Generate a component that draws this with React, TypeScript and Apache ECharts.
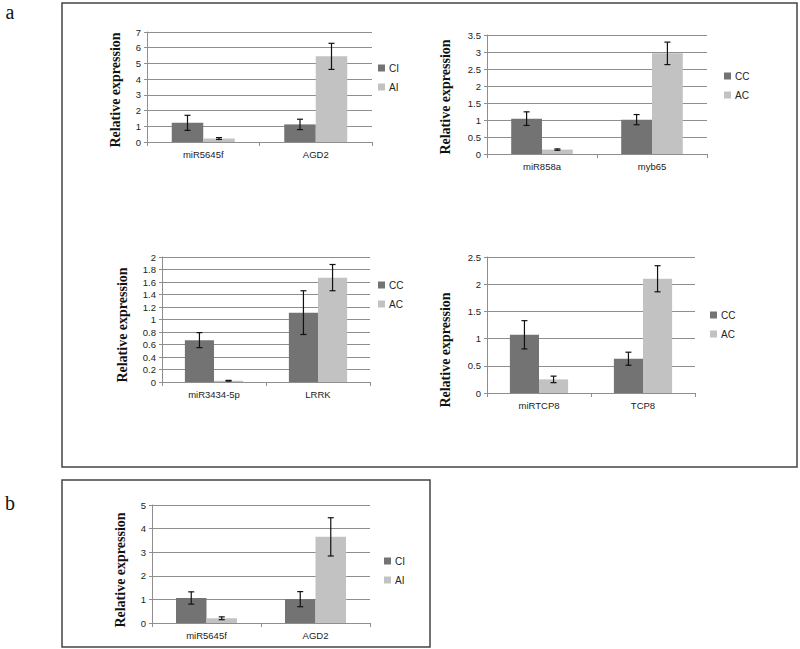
import React, { useEffect, useRef } from "react";
import * as echarts from "echarts";

// ---- data ----
const CATS_1 = ["miR5645f", "AGD2"];
const CI_1 = [1.22, 1.12];
const CI_1_ERR = [0.48, 0.33];
const AI_1 = [0.22, 5.45];
const AI_1_ERR = [0.06, 0.83];

const CATS_2 = ["miR858a", "myb65"];
const CC_2 = [1.04, 1.01];
const CC_2_ERR = [0.2, 0.15];
const AC_2 = [0.13, 2.96];
const AC_2_ERR = [0.02, 0.33];

const CATS_3 = ["miR3434-5p", "LRRK"];
const CC_3 = [0.67, 1.11];
const CC_3_ERR = [0.12, 0.35];
const AC_3 = [0.02, 1.67];
const AC_3_ERR = [0.006, 0.21];

const CATS_4 = ["miRTCP8", "TCP8"];
const CC_4 = [1.07, 0.63];
const CC_4_ERR = [0.26, 0.12];
const AC_4 = [0.25, 2.1];
const AC_4_ERR = [0.06, 0.24];

const CATS_5 = ["miR5645f", "AGD2"];
const CI_5 = [1.06, 1.01];
const CI_5_ERR = [0.26, 0.32];
const AI_5 = [0.2, 3.65];
const AI_5_ERR = [0.06, 0.81];

const Y_MAX = [7, 3.5, 2, 2.5, 5];
const Y_STEP = [1, 0.5, 0.2, 0.5, 1];
const NAMES = [
  ["CI", "AI"],
  ["CC", "AC"],
  ["CC", "AC"],
  ["CC", "AC"],
  ["CI", "AI"],
];
const Y_TITLE = "Relative expression";

// ---- layout (pixels) ----
const GRIDS = [
  { left: 147, top: 32, width: 225, height: 110 },
  { left: 487, top: 35, width: 220, height: 119 },
  { left: 162, top: 257, width: 208, height: 125 },
  { left: 487, top: 257, width: 208, height: 136 },
  { left: 152, top: 505, width: 218, height: 118 },
];
const TITLE_POS = [
  [115, 90],
  [445, 97],
  [122, 325],
  [445, 350],
  [120, 570],
];
const LEGEND_POS = [
  [378, 63],
  [724, 71],
  [378, 280],
  [710, 310],
  [384, 556],
];

const DARK = "#737373";
const LIGHT = "#c2c2c2";
const GRID_COLOR = "#8e8e8e";
const SANS = "Liberation Sans";
const SERIF = "Liberation Serif";

const PANELS = [
  { cats: CATS_1, a: CI_1, ae: CI_1_ERR, b: AI_1, be: AI_1_ERR },
  { cats: CATS_2, a: CC_2, ae: CC_2_ERR, b: AC_2, be: AC_2_ERR },
  { cats: CATS_3, a: CC_3, ae: CC_3_ERR, b: AC_3, be: AC_3_ERR },
  { cats: CATS_4, a: CC_4, ae: CC_4_ERR, b: AC_4, be: AC_4_ERR },
  { cats: CATS_5, a: CI_5, ae: CI_5_ERR, b: AI_5, be: AI_5_ERR },
];

function buildOption() {
  const grid: any[] = [];
  const xAxis: any[] = [];
  const yAxis: any[] = [];
  const series: any[] = [];
  const legend: any[] = [];
  const graphic: any[] = [];

  PANELS.forEach((p, k) => {
    grid.push({ ...GRIDS[k], containLabel: false });
    xAxis.push({
      type: "category",
      gridIndex: k,
      data: p.cats,
      axisLine: { show: true, lineStyle: { color: GRID_COLOR, width: 1 } },
      axisTick: { show: true, length: 4, lineStyle: { color: GRID_COLOR } },
      axisLabel: { fontFamily: SANS, fontSize: 9.5, color: "#222", margin: 7 },
    });
    yAxis.push({
      type: "value",
      gridIndex: k,
      min: 0,
      max: Y_MAX[k],
      interval: Y_STEP[k],
      axisLine: { show: true, lineStyle: { color: GRID_COLOR, width: 1 } },
      axisTick: { show: true, length: 3, lineStyle: { color: GRID_COLOR } },
      splitLine: { show: true, lineStyle: { color: GRID_COLOR, width: 1 } },
      axisLabel: {
        fontFamily: SANS,
        fontSize: 9.5,
        color: "#222",
        margin: 6,
        formatter: (v: number) => String(+v.toFixed(1)),
      },
    });
    const [n1, n2] = NAMES[k];
    series.push({
      type: "bar",
      name: n1,
      xAxisIndex: k,
      yAxisIndex: k,
      data: p.a,
      itemStyle: { color: DARK },
      barGap: "0%",
      barCategoryGap: "44%",
    });
    series.push({
      type: "bar",
      name: n2,
      xAxisIndex: k,
      yAxisIndex: k,
      data: p.b,
      itemStyle: { color: LIGHT },
      barGap: "0%",
      barCategoryGap: "44%",
    });
    const errData: number[][] = [];
    p.cats.forEach((_, i) => {
      errData.push([i, p.a[i] - p.ae[i], p.a[i] + p.ae[i], 0]);
      errData.push([i, p.b[i] - p.be[i], p.b[i] + p.be[i], 1]);
    });
    series.push({
      type: "custom",
      name: "err" + k,
      xAxisIndex: k,
      yAxisIndex: k,
      z: 10,
      data: errData,
      encode: { x: 0, y: [1, 2] },
      renderItem: (params: any, api: any) => {
        const i = api.value(0);
        const lo = api.value(1);
        const hi = api.value(2);
        const s = api.value(3);
        const catW = api.size([1, 0])[0];
        const pLo = api.coord([i, lo]);
        const pHi = api.coord([i, hi]);
        const x = pLo[0] + (s === 0 ? -1 : 1) * catW * 0.14;
        const cw = 3;
        const st = { stroke: "#111", lineWidth: 1.2 };
        return {
          type: "group",
          children: [
            { type: "line", shape: { x1: x, y1: pLo[1], x2: x, y2: pHi[1] }, style: st },
            { type: "line", shape: { x1: x - cw, y1: pLo[1], x2: x + cw, y2: pLo[1] }, style: st },
            { type: "line", shape: { x1: x - cw, y1: pHi[1], x2: x + cw, y2: pHi[1] }, style: st },
          ],
        };
      },
    });
    legend.push({
      orient: "vertical",
      left: LEGEND_POS[k][0],
      top: LEGEND_POS[k][1],
      padding: 0,
      itemWidth: 7,
      itemHeight: 7,
      itemGap: 9,
      icon: "rect",
      selectedMode: false,
      data: [n1, n2],
      textStyle: { fontFamily: SANS, fontSize: 10, color: "#222", padding: [0, 0, 0, -1] },
    });
    graphic.push({
      type: "text",
      x: TITLE_POS[k][0],
      y: TITLE_POS[k][1],
      rotation: Math.PI / 2,
      style: {
        text: Y_TITLE,
        font: `bold 14px "${SERIF}"`,
        fill: "#111",
        align: "center",
        verticalAlign: "middle",
      },
    });
  });

  graphic.push(
    {
      type: "rect",
      shape: { x: 62, y: 3, width: 735, height: 464 },
      style: { fill: "none", stroke: "#444", lineWidth: 1.5 },
    },
    {
      type: "rect",
      shape: { x: 62, y: 480, width: 368, height: 167 },
      style: { fill: "none", stroke: "#444", lineWidth: 1.5 },
    },
    {
      type: "text",
      x: 10,
      y: 12,
      style: { text: "a", font: `20px "${SERIF}"`, fill: "#111", align: "center", verticalAlign: "middle" },
    },
    {
      type: "text",
      x: 10,
      y: 503,
      style: { text: "b", font: `20px "${SERIF}"`, fill: "#111", align: "center", verticalAlign: "middle" },
    }
  );

  return {
    animation: false,
    backgroundColor: "#fff",
    grid,
    xAxis,
    yAxis,
    series,
    legend,
    graphic,
  };
}

export default function App() {
  const ref = useRef<HTMLDivElement>(null);
  useEffect(() => {
    if (!ref.current) return;
    const chart = echarts.init(ref.current, null, { renderer: "svg" });
    chart.setOption(buildOption());
    return () => chart.dispose();
  }, []);
  return (
    <div
      ref={ref}
      style={{ position: "fixed", left: 0, top: 0, width: 800, height: 649, background: "#fff" }}
    />
  );
}
